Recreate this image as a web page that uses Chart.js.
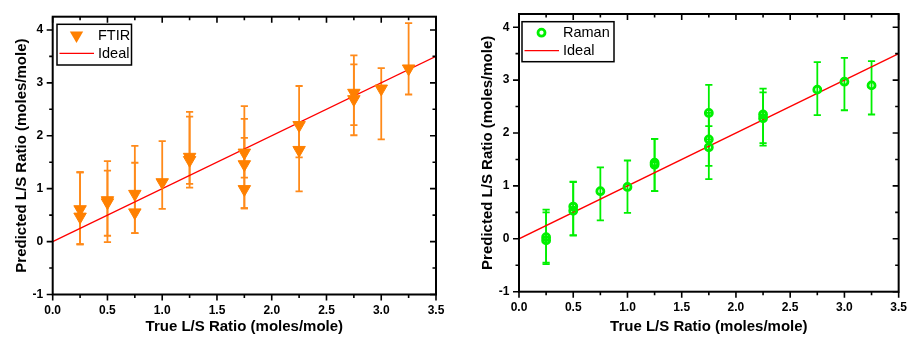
<!DOCTYPE html>
<html><head><meta charset="utf-8">
<script src="https://cdn.jsdelivr.net/npm/chart.js@4/dist/chart.umd.min.js"></script>
<style>
html,body{margin:0;padding:0;background:#fff;}
#wrap{position:relative;width:910px;height:340px;overflow:hidden;}
.c{position:absolute;top:0;width:455px;height:340px;}
</style></head><body>
<div id="wrap">
<div class="c" style="left:0"><canvas id="c1" width="455" height="340"></canvas></div>
<div class="c" style="left:455px"><canvas id="c2" width="455" height="340"></canvas></div>
</div>
<script>
// ---------- data ----------
const xTickValues = [0, 0.5, 1.0, 1.5, 2.0, 2.5, 3.0, 3.5];
const yTickValues = [-1, 0, 1, 2, 3, 4];
const xTitle = 'True L/S Ratio (moles/mole)';
const yTitle = 'Predicted L/S Ratio (moles/mole)';

const idealX = [0, 3.5];
const idealY = [0, 3.5];

const ftirX    = [0.25, 0.25, 0.5, 0.5, 0.75, 0.75, 1.0, 1.25, 1.25, 1.75, 1.75, 1.75, 2.25, 2.25, 2.75, 2.75, 3.0, 3.25];
const ftirY    = [0.61, 0.47, 0.78, 0.74, 0.90, 0.55, 1.12, 1.60, 1.54, 1.68, 1.46, 0.99, 2.20, 1.73, 2.81, 2.69, 2.89, 3.27];
const ftirLow  = [-0.05, -0.05, -0.01, 0.11, 0.16, 0.16, 0.62, 1.09, 1.02, 1.21, 0.63, 0.63, 1.59, 0.95, 2.20, 2.01, 1.93, 2.78];
const ftirHigh = [1.31, 1.31, 1.52, 1.34, 1.81, 1.49, 1.90, 2.45, 2.36, 2.56, 2.32, 1.96, 2.94, 2.20, 3.52, 3.35, 3.28, 4.13];

const ramanX    = [0.25, 0.25, 0.5, 0.5, 0.75, 1.0, 1.25, 1.25, 1.75, 1.75, 1.75, 2.25, 2.25, 2.75, 3.0, 3.25];
const ramanY    = [0.03, -0.03, 0.61, 0.53, 0.90, 0.98, 1.44, 1.40, 2.38, 1.88, 1.73, 2.35, 2.28, 2.82, 2.97, 2.90];
const ramanLow  = [-0.45, -0.48, 0.07, 0.06, 0.35, 0.49, 0.90, 0.90, 1.88, 1.38, 1.13, 1.81, 1.76, 2.34, 2.43, 2.35];
const ramanHigh = [0.55, 0.50, 1.08, 1.07, 1.35, 1.48, 1.89, 1.89, 2.91, 2.38, 2.13, 2.84, 2.77, 3.34, 3.42, 3.36];

// ---------- plugins ----------
const FONT = '"Liberation Sans", Arial, Helvetica, sans-serif';
Chart.defaults.font.family = FONT;

const errorBars = {
  id: 'errorBars',
  beforeDatasetsDraw(chart) {
    const {ctx, chartArea: a, scales: {x, y}} = chart;
    ctx.save();
    ctx.beginPath(); ctx.rect(a.left, a.top, a.right - a.left, a.bottom - a.top); ctx.clip();
    chart.data.datasets.forEach(ds => {
      if (!ds.errLow) return;
      ctx.strokeStyle = ds.errColor;
      ctx.lineWidth = 1.8;
      const cap = 3.6;
      ds.data.forEach((p, j) => {
        const px = x.getPixelForValue(p.x);
        const pl = y.getPixelForValue(ds.errLow[j]);
        const ph = y.getPixelForValue(ds.errHigh[j]);
        ctx.beginPath();
        ctx.moveTo(px, pl); ctx.lineTo(px, ph);
        ctx.moveTo(px - cap, pl); ctx.lineTo(px + cap, pl);
        ctx.moveTo(px - cap, ph); ctx.lineTo(px + cap, ph);
        ctx.stroke();
      });
    });
    ctx.restore();
  }
};

function midpoints(arr) {
  const out = [];
  for (let i = 0; i < arr.length - 1; i++) out.push((arr[i] + arr[i + 1]) / 2);
  return out;
}

const frame = {
  id: 'frame',
  afterDraw(chart) {
    const {ctx, chartArea: a, scales: {x, y}} = chart;
    ctx.save();
    ctx.strokeStyle = '#000';
    ctx.lineWidth = 1.6;
    ctx.beginPath();
    const xt = (vals, len) => vals.forEach(v => {
      const px = x.getPixelForValue(v);
      ctx.moveTo(px, a.bottom); ctx.lineTo(px, a.bottom + len);
      ctx.moveTo(px, a.top); ctx.lineTo(px, a.top + len);
    });
    const yt = (vals, len) => vals.forEach(v => {
      const py = y.getPixelForValue(v);
      ctx.moveTo(a.left, py); ctx.lineTo(a.left - len, py);
      ctx.moveTo(a.right, py); ctx.lineTo(a.right - len, py);
    });
    xt(xTickValues, 6); xt(midpoints(xTickValues), 3.5);
    yt(yTickValues, 6); yt(midpoints(yTickValues), 3.5);
    ctx.stroke();
    ctx.lineWidth = 2;
    ctx.strokeRect(a.left, a.top, a.right - a.left, a.bottom - a.top);
    ctx.restore();
  }
};

const boxLegend = {
  id: 'boxLegend',
  afterDraw(chart, args, o) {
    const ctx = chart.ctx;
    ctx.save();
    ctx.fillStyle = '#fff';
    ctx.fillRect(o.x, o.y, o.w, o.h);
    ctx.strokeStyle = '#000'; ctx.lineWidth = 1.5;
    ctx.strokeRect(o.x, o.y, o.w, o.h);
    const rows = [11, 29];
    chart.data.datasets.forEach((ds, i) => {
      const cy = o.y + rows[i];
      if (ds.showLine) {
        ctx.strokeStyle = ds.borderColor; ctx.lineWidth = ds.borderWidth;
        ctx.beginPath(); ctx.moveTo(o.x + 2.5, cy); ctx.lineTo(o.x + 37, cy); ctx.stroke();
      } else {
        const mx = o.x + 19.5;
        if (ds.pointStyle === 'triangle') {
          const r = ds.pointRadius + 0.5;
          ctx.fillStyle = ds.backgroundColor;
          ctx.beginPath();
          ctx.moveTo(mx, cy + r);
          ctx.lineTo(mx - r * 0.866, cy - r / 2);
          ctx.lineTo(mx + r * 0.866, cy - r / 2);
          ctx.closePath(); ctx.fill();
        } else {
          ctx.strokeStyle = ds.borderColor; ctx.lineWidth = ds.borderWidth;
          ctx.beginPath(); ctx.arc(mx, cy, ds.pointRadius, 0, Math.PI * 2); ctx.stroke();
        }
      }
      ctx.fillStyle = '#000';
      ctx.font = '14.5px ' + FONT;
      ctx.textBaseline = 'middle';
      ctx.textAlign = 'left';
      ctx.fillText(ds.label, o.x + 41, cy + 0.5);
    });
    ctx.restore();
  }
};

// ---------- charts ----------
function build(id, cfg) {
  return new Chart(document.getElementById(id), {
    type: 'scatter',
    data: {
      datasets: [
        {
          label: cfg.label,
          data: cfg.xs.map((v, i) => ({x: v, y: cfg.ys[i]})),
          errLow: cfg.low, errHigh: cfg.high, errColor: cfg.errColor,
          pointStyle: cfg.style, rotation: cfg.rot,
          pointRadius: cfg.r, borderWidth: cfg.bw,
          backgroundColor: cfg.fill, borderColor: cfg.color
        },
        {
          label: 'Ideal',
          data: idealX.map((v, i) => ({x: v, y: idealY[i]})),
          showLine: true, borderColor: '#FF0000', borderWidth: 1.3,
          pointRadius: 0, fill: false
        }
      ]
    },
    options: {
      responsive: false, animation: false, events: [],
      layout: {padding: {left: 0, top: cfg.top, right: cfg.right, bottom: 0}},
      plugins: {legend: {display: false}, tooltip: {enabled: false}, boxLegend: cfg.legend},
      scales: {
        x: {
          type: 'linear', min: 0, max: 3.5,
          afterBuildTicks: s => { s.ticks = xTickValues.map(v => ({value: v})); },
          afterFit: s => { s.height = cfg.xh; },
          grid: {display: true, drawOnChartArea: false, color: 'rgba(0,0,0,0)', tickLength: 6},
          border: {display: false},
          ticks: {font: {size: 12, weight: 'bold'}, color: '#000', padding: 3, maxRotation: 0, autoSkip: false,
                  callback: v => Number(v).toFixed(1)},
          title: {display: true, text: xTitle, color: '#000', font: {size: 15, weight: 'bold'}, padding: {top: 0, bottom: 4}}
        },
        y: {
          type: 'linear', min: -1, max: 4.25,
          afterBuildTicks: s => { s.ticks = yTickValues.map(v => ({value: v})); },
          afterFit: s => { s.width = cfg.yw; },
          grid: {display: true, drawOnChartArea: false, color: 'rgba(0,0,0,0)', tickLength: 6},
          border: {display: false},
          ticks: {font: {size: 12, weight: 'bold'}, color: '#000', padding: 3.5, autoSkip: false,
                  callback: v => String(v)},
          title: {display: true, text: yTitle, color: '#000', font: {size: 15, weight: 'bold'}, padding: {top: cfg.ytp, bottom: 0}}
        }
      }
    },
    plugins: [errorBars, frame, boxLegend]
  });
}

build('c1', {
  label: 'FTIR', xs: ftirX, ys: ftirY, low: ftirLow, high: ftirHigh,
  color: '#FF8000', fill: '#FF8000', errColor: '#FF8A1A', style: 'triangle', rot: 180, r: 7.2, bw: 1,
  top: 16.7, right: 19, yw: 52.7, xh: 45.5, ytp: 13,
  legend: {x: 57, y: 24.3, w: 74.5, h: 40.7}
});

build('c2', {
  label: 'Raman', xs: ramanX, ys: ramanY, low: ramanLow, high: ramanHigh,
  color: '#00F000', fill: 'rgba(255,255,255,0)', errColor: '#00F000', style: 'circle', rot: 0, r: 3.5, bw: 2.8,
  top: 14, right: 10, yw: 64, xh: 48.3, ytp: 24,
  legend: {x: 67, y: 21.7, w: 92, h: 40}
});
</script>
</body></html>
